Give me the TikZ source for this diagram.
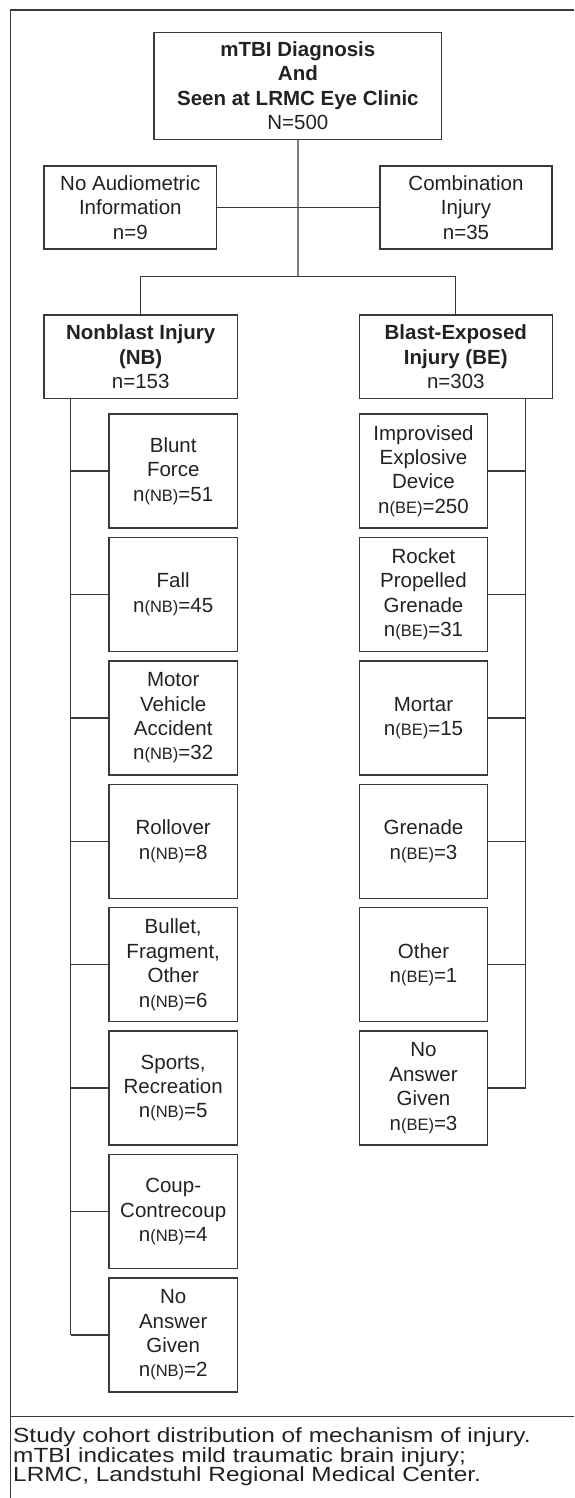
\documentclass[tikz,border=0pt]{standalone}
\usepackage{fontspec}
\usepackage{graphicx}
\setmainfont{Liberation Sans}
\definecolor{lncol}{HTML}{3A3A3A}
\definecolor{txtcol}{HTML}{222222}
\newcommand{\nbtag}{{\fontsize{16.5}{16.5}\selectfont(NB)}}
\newcommand{\betag}{{\fontsize{16.5}{16.5}\selectfont(BE)}}
\newcommand{\capline}[1]{\scalebox{1.19}[1]{#1}}
\begin{document}
\begin{tikzpicture}[x=1pt,y=-1pt,
  wire/.style={draw=lncol, line width=1.3pt},
  box/.style={draw=lncol, line width=1.3pt, align=center, inner sep=0pt, text=txtcol,
    font=\fontsize{20.5}{24.4}\selectfont},
  kidbox/.style={box, minimum width=128.3pt, minimum height=114pt},
  captext/.style={anchor=base west, inner sep=0pt, text=txtcol, font=\fontsize{20.5}{20.5}\selectfont}]
\useasboundingbox (0,0) rectangle (574,1498);
% frame
\draw[wire] (574,10) -- (10.7,10) -- (10.7,1498);
\draw[wire] (10.7,1416.6) -- (574,1416.6);
% top level
\node[box, minimum width=287.7pt, minimum height=107pt] (top) at (297.9,85.8)
  {\textbf{mTBI Diagnosis}\\\textbf{And}\\\textbf{Seen at LRMC Eye Clinic}\\N=500};
\node[box, minimum width=172.7pt, minimum height=83pt] (noaud) at (130.3,207.5)
  {No Audiometric\\Information\\n=9};
\node[box, minimum width=172pt, minimum height=83pt] (comb) at (466,207.5)
  {Combination\\Injury\\n=35};
\node[box, minimum width=193.3pt, minimum height=83.7pt] (nb) at (140.7,356.8)
  {\textbf{Nonblast Injury}\\\textbf{(NB)}\\n=153};
\node[box, minimum width=193pt, minimum height=83.7pt] (be) at (455.8,356.8)
  {\textbf{Blast-Exposed}\\\textbf{Injury (BE)}\\n=303};
% NB children
\node[kidbox] (nb1) at (173.2,471) {Blunt\\Force\\n\nbtag=51};
\node[kidbox] (nb2) at (173.2,594.4) {Fall\\n\nbtag=45};
\node[kidbox] (nb3) at (173.2,717.9) {Motor\\Vehicle\\Accident\\n\nbtag=32};
\node[kidbox] (nb4) at (173.2,841.3) {Rollover\\n\nbtag=8};
\node[kidbox] (nb5) at (173.2,964.7) {Bullet,\\Fragment,\\Other\\n\nbtag=6};
\node[kidbox] (nb6) at (173.2,1088.1) {Sports,\\Recreation\\n\nbtag=5};
\node[kidbox] (nb7) at (173.2,1211.6) {Coup-\\Contrecoup\\n\nbtag=4};
\node[kidbox] (nb8) at (173.2,1335) {No\\Answer\\Given\\n\nbtag=2};
% BE children
\node[kidbox] (be1) at (423.5,471) {Improvised\\Explosive\\Device\\n\betag=250};
\node[kidbox] (be2) at (423.5,594.4) {Rocket\\Propelled\\Grenade\\n\betag=31};
\node[kidbox] (be3) at (423.5,717.9) {Mortar\\n\betag=15};
\node[kidbox] (be4) at (423.5,841.3) {Grenade\\n\betag=3};
\node[kidbox] (be5) at (423.5,964.7) {Other\\n\betag=1};
\node[kidbox] (be6) at (423.5,1088.1) {No\\Answer\\Given\\n\betag=3};
% connectors
\coordinate (splitj) at (298,276.7);
\draw[wire] (top.south) -- (splitj);
\draw[wire] (noaud.east) -- (comb.west);
\draw[wire] (nb.north) -- (nb.north |- splitj) -- (be.north |- splitj) -- (be.north);
\coordinate (nbspine) at (70.7,0);
\coordinate (bespine) at (525.7,0);
\draw[wire] (nbspine |- nb.south) -- (nbspine |- nb8.west);
\foreach \k in {1,...,8} {\draw[wire] (nbspine |- nb\k.west) -- (nb\k.west);}
\draw[wire] (bespine |- be.south) -- (bespine |- be6.east);
\foreach \k in {1,...,6} {\draw[wire] (bespine |- be\k.east) -- (be\k.east);}
% caption
\node[captext] (cap1) at (13,1442.3) {\capline{Study cohort distribution of mechanism of injury.}};
\node[captext] (cap2) at (13,1462.1) {\capline{mTBI indicates mild traumatic brain injury;}};
\node[captext] (cap3) at (13,1481.8) {\capline{LRMC, Landstuhl Regional Medical Center.}};
\end{tikzpicture}
\end{document}
